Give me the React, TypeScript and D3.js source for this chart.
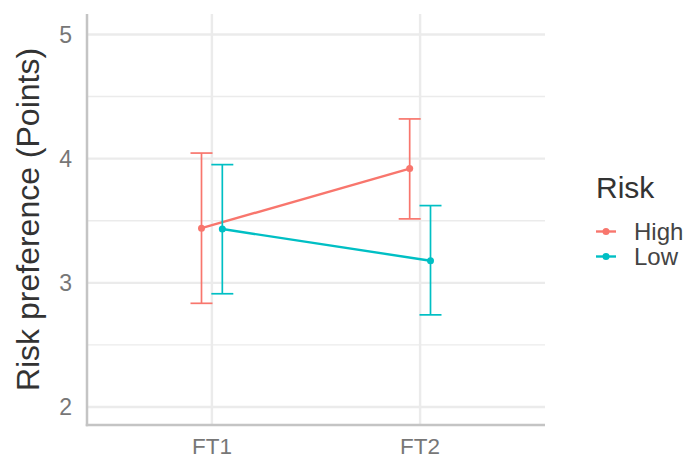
import React from "react";
import * as d3 from "d3";

const categories = ["FT1", "FT2"];
const seriesNames = ["High", "Low"];
const highMean = [3.44, 3.92];
const highLower = [2.835, 3.515];
const highUpper = [4.045, 4.32];
const lowMean = [3.433, 3.178];
const lowLower = [2.912, 2.742];
const lowUpper = [3.952, 3.622];
const yTicks = [2, 3, 4, 5];
const yMinorTicks = [2.5, 3.5, 4.5];
const colors = ["#F8766D", "#00BFC4"];

const W = 689;
const H = 459;
const panel = { left: 87, right: 545, top: 14, bottom: 425 };

export default function App() {
  const y = d3.scaleLinear().domain([1.855, 5.165]).range([panel.bottom, panel.top]);
  const x = d3
    .scaleLinear()
    .domain([0.4, 2.6])
    .range([panel.left, panel.right]);
  const dodge = [-0.05, 0.05];
  const series = [
    { name: seriesNames[0], mean: highMean, lo: highLower, hi: highUpper, color: colors[0] },
    { name: seriesNames[1], mean: lowMean, lo: lowLower, hi: lowUpper, color: colors[1] },
  ];
  const line = d3
    .line<[number, number]>()
    .x((d) => d[0])
    .y((d) => d[1]);
  const capHalf = 11;
  const font = "'Liberation Sans', Arial, sans-serif";

  return (
    <svg
      width={W}
      height={H}
      style={{ position: "absolute", left: 0, top: 0, display: "block", background: "#fff" }}
      fontFamily={font}
    >
      {yMinorTicks.map((t) => (
        <line key={"m" + t} x1={panel.left} x2={panel.right} y1={y(t)} y2={y(t)} stroke="#EBEBEB" strokeWidth={1.4} />
      ))}
      {yTicks.map((t) => (
        <line key={"g" + t} x1={panel.left} x2={panel.right} y1={y(t)} y2={y(t)} stroke="#EBEBEB" strokeWidth={2.4} />
      ))}
      {categories.map((c, i) => (
        <line key={"v" + c} x1={x(i + 1)} x2={x(i + 1)} y1={panel.top} y2={panel.bottom} stroke="#EBEBEB" strokeWidth={2.4} />
      ))}
      <line x1={panel.left} x2={panel.left} y1={panel.top} y2={panel.bottom + 1.25} stroke="#C4C4C4" strokeWidth={2.5} />
      <line x1={panel.left - 1.25} x2={panel.right} y1={panel.bottom} y2={panel.bottom} stroke="#C4C4C4" strokeWidth={2.5} />
      {series.map((s, si) => {
        const pts: [number, number][] = s.mean.map((m, i) => [x(i + 1 + dodge[si]), y(m)]);
        return (
          <g key={s.name}>
            {s.mean.map((m, i) => {
              const cx = x(i + 1 + dodge[si]);
              return (
                <g key={i} stroke={s.color} strokeWidth={1.7} fill="none">
                  <line x1={cx} x2={cx} y1={y(s.lo[i])} y2={y(s.hi[i])} />
                  <line x1={cx - capHalf} x2={cx + capHalf} y1={y(s.lo[i])} y2={y(s.lo[i])} />
                  <line x1={cx - capHalf} x2={cx + capHalf} y1={y(s.hi[i])} y2={y(s.hi[i])} />
                </g>
              );
            })}
            <path d={line(pts) || ""} stroke={s.color} strokeWidth={2.4} fill="none" />
            {pts.map((p, i) => (
              <circle key={i} cx={p[0]} cy={p[1]} r={3.5} fill={s.color} />
            ))}
          </g>
        );
      })}
      {yTicks.map((t) => (
        <text key={"yt" + t} x={72} y={y(t)} dy="0.36em" textAnchor="end" fontSize={23} fill="#777">
          {t}
        </text>
      ))}
      {categories.map((c, i) => (
        <text key={"xt" + c} x={x(i + 1)} y={454} textAnchor="middle" fontSize={22.5} fill="#777">
          {c}
        </text>
      ))}
      <text
        transform={`translate(39,${(panel.top + panel.bottom) / 2}) rotate(-90)`}
        textAnchor="middle"
        fontSize={32}
        fill="#333"
      >
        Risk preference (Points)
      </text>
      <text x={596} y={198} fontSize={30} fill="#333">
        Risk
      </text>
      {series.map((s, i) => {
        const ly = 231.5 + i * 25;
        return (
          <g key={"lg" + s.name}>
            <line x1={596} x2={616} y1={ly} y2={ly} stroke={s.color} strokeWidth={2.4} />
            <circle cx={606} cy={ly} r={3.5} fill={s.color} />
            <text x={634} y={ly} dy="0.36em" fontSize={24} fill="#444">
              {s.name}
            </text>
          </g>
        );
      })}
    </svg>
  );
}
